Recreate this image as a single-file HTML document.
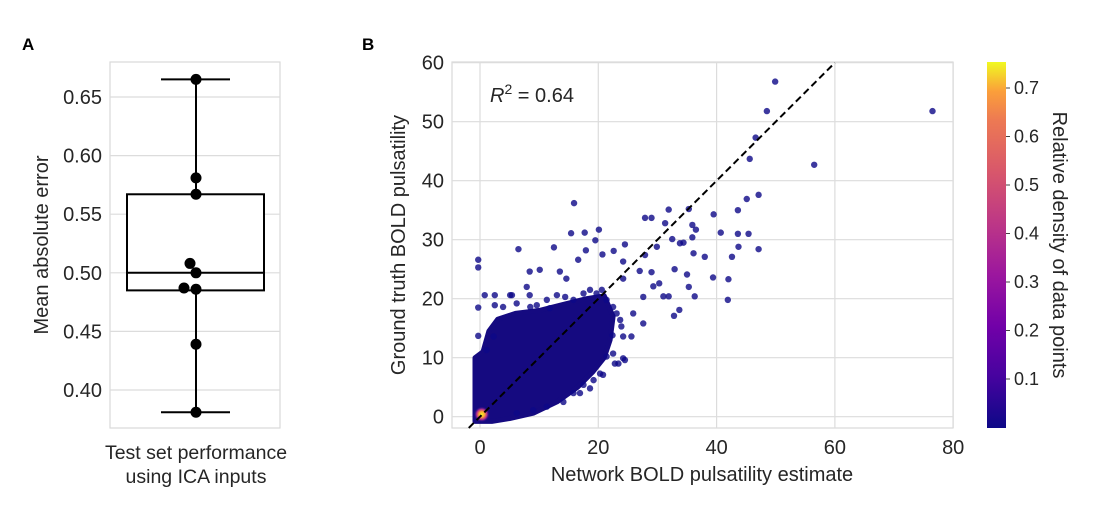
<!DOCTYPE html>
<html><head><meta charset="utf-8"><style>
html,body{margin:0;padding:0;background:#fff;}
svg{display:block;font-family:"Liberation Sans",sans-serif;}
</style></head><body>
<svg id="fig" width="1100" height="520" viewBox="0 0 1100 520">
<defs>
<linearGradient id="plasma" x1="0" y1="1" x2="0" y2="0">
<stop offset="0" stop-color="#0d0887"/><stop offset="0.14" stop-color="#46039f"/>
<stop offset="0.28" stop-color="#7201a8"/><stop offset="0.42" stop-color="#9c179e"/>
<stop offset="0.56" stop-color="#bd3786"/><stop offset="0.7" stop-color="#d8576b"/>
<stop offset="0.84" stop-color="#ed7953"/><stop offset="0.92" stop-color="#fb9f3a"/>
<stop offset="1" stop-color="#f0f921"/></linearGradient>
<radialGradient id="hot"><stop offset="0" stop-color="#f0f921"/><stop offset="0.35" stop-color="#fca636"/><stop offset="0.65" stop-color="#b12a90"/><stop offset="1" stop-color="#0d0887" stop-opacity="0"/></radialGradient>
</defs>
<text x="22" y="50" font-size="17" font-weight="bold" fill="#000">A</text>
<text x="362" y="50" font-size="17" font-weight="bold" fill="#000">B</text>
<g id="pa"></g>
<g id="pb"></g>
</svg>
<script>
// Panel A data
const aTicks=[0.40,0.45,0.50,0.55,0.60,0.65];
const aPoints=[0.665,0.581,0.567,0.508,0.500,0.487,0.486,0.439,0.381];
const aPointOffsets=[0,0,0,-1,0,-2,0,0,0];
const aBox={q1:0.485,median:0.500,q3:0.567,lo:0.381,hi:0.665};
// Panel B data
const bXTicks=[0,20,40,60,80];
const bYTicks=[0,10,20,30,40,50,60];
const cbTicks=[0.1,0.2,0.3,0.4,0.5,0.6,0.7];
const outX=[49.9,48.5,76.5,46.6,45.6,56.5,47.1,45.1,15.9,31.9,35.3,39.5,43.6,27.9,29.0,31.3,35.9,36.5,40.7,43.6,45.4,20.1,15.4,17.7,32.5,35.9,43.7,47.1,42.6,38.0,6.5,12.5,-0.3,-0.3,39.4,42.0,41.9,36.3,35.3,35.0,33.7,32.8,31.0,31.9,29.3,30.3,32.9,29.0,27.0,24.5,22.6,17.9,16.6,19.5,20.7,24.2,24.2,27.9,29.9,34.4,36.1,33.8,27.6,25.9,27.6,25.6,22.4,24.5,22.8,20.8,18.6,8.4,10.1,7.9,13.5,14.6,2.5,-0.3,-0.3,5.1,8.4,
 0.8,2.5,3.9,5.4,6.2,8.5,9.6,11.3,11.8,13.0,14.4,15.8,17.5,18.6,19.7,20.6,21.4,22.5,23.1,23.7,23.9,24.2,22.5,21.4,23.4,24.2,20.3,19.2,17.5,16.9,15.8,14.1,11.3,9.0,6.2,2.3,1.1];
const outY=[56.8,51.8,51.8,47.3,43.7,42.7,37.6,36.9,36.2,35.1,35.2,34.3,35.0,33.7,33.7,32.8,32.5,31.7,31.2,31.0,31.0,31.7,31.1,31.2,30.1,30.4,28.8,28.4,27.1,27.1,28.4,28.7,26.6,25.3,23.6,23.3,19.8,20.4,22.0,24.1,18.1,17.1,20.4,20.4,22.1,22.6,25.0,24.5,24.7,29.2,28.1,28.2,26.6,29.9,27.5,26.3,23.4,27.4,28.8,29.5,27.7,29.4,20.3,17.5,15.8,13.6,13.8,9.6,9.0,7.1,4.8,24.6,24.9,22.0,24.6,23.4,20.6,18.5,13.7,20.6,20.6,
 20.6,18.9,18.6,20.6,19.2,18.6,18.9,19.8,18.4,20.6,20.3,19.8,20.9,21.5,20.9,21.5,19.8,18.6,17.5,16.4,15.3,13.6,10.7,10.2,9.0,9.9,7.3,6.2,5.4,4.0,4.0,2.5,1.7,1.1,0.6,13.6,11.3];
const blobX=[-0.85,-0.85,0.5,1.5,3,6,10,14,18,21,22.5,22,21,19,16.5,13,9,5,2,-0.85];
const blobY=[-0.8,10,11,14.5,16.5,17.5,18,19,20,20.5,17,13,10,7.5,5,2.5,0.6,-0.3,-0.8,-0.8];

const NS="http://www.w3.org/2000/svg";
function mk(p,tag,at,txt){const e=document.createElementNS(NS,tag);for(const k in at)e.setAttribute(k,at[k]);if(txt!=null)e.textContent=txt;p.appendChild(e);return e;}

// ---------- Panel A ----------
const pa=document.getElementById('pa');
const aL=110,aR=280,aT=62,aB=428;
const ay=v=>390-(v-0.40)/0.05*58.6;
mk(pa,'rect',{x:aL,y:aT,width:aR-aL,height:aB-aT,fill:'#fff',stroke:'#d9d9d9','stroke-width':1.2});
aTicks.forEach(t=>{
 const g=mk(pa,'line',{x1:aL,x2:aR,y1:ay(t),y2:ay(t),stroke:'#dcdcdc','stroke-width':1.2});
 
 const l=mk(pa,'text',{x:aL-8,y:ay(t)+7,'font-size':20,'text-anchor':'end',fill:'#262626'},t.toFixed(2));
 
});
const cx=196;
const wl=mk(pa,'line',{x1:cx,x2:cx,y1:ay(aBox.hi),y2:ay(aBox.lo),stroke:'#000','stroke-width':2});

[aBox.hi,aBox.lo].forEach(v=>{const c=mk(pa,'line',{x1:161,x2:230,y1:ay(v),y2:ay(v),stroke:'#000','stroke-width':2});
 });
const bx=mk(pa,'rect',{x:127,y:ay(aBox.q3),width:137,height:ay(aBox.q1)-ay(aBox.q3),fill:'#fff',stroke:'#000','stroke-width':2});

const md=mk(pa,'line',{x1:127,x2:264,y1:ay(aBox.median),y2:ay(aBox.median),stroke:'#000','stroke-width':2});

aPoints.forEach((v,i)=>{const c=mk(pa,'circle',{cx:cx+aPointOffsets[i]*6,cy:ay(v),r:5.5,fill:'#000'});
 });
const ayl=mk(pa,'text',{transform:'translate(48,245) rotate(-90)','font-size':20,'text-anchor':'middle',fill:'#262626'},'Mean absolute error');

const ax1=mk(pa,'text',{x:196,y:459,'font-size':19.5,'text-anchor':'middle',fill:'#262626'},'Test set performance');

const ax2=mk(pa,'text',{x:196,y:483,'font-size':19.5,'text-anchor':'middle',fill:'#262626'},'using ICA inputs');


// ---------- Panel B ----------
const pb=document.getElementById('pb');
const bL=452,bR=953,bT=62,bB=428;
const bx_=v=>480+v*5.915;
const by_=v=>416.7-v*5.9;
mk(pb,'rect',{x:bL,y:bT,width:bR-bL,height:bB-bT,fill:'#fff',stroke:'#d9d9d9','stroke-width':1.2});
bXTicks.forEach(t=>{
 const g=mk(pb,'line',{x1:bx_(t),x2:bx_(t),y1:bT,y2:bB,stroke:'#dcdcdc','stroke-width':1.2});
 
 const l=mk(pb,'text',{x:bx_(t),y:454,'font-size':20,'text-anchor':'middle',fill:'#262626'},String(t));
 
});
bYTicks.forEach(t=>{
 const g=mk(pb,'line',{x1:bL,x2:bR,y1:by_(t),y2:by_(t),stroke:'#dcdcdc','stroke-width':1.2});
 
 const l=mk(pb,'text',{x:bL-8,y:by_(t)+7,'font-size':20,'text-anchor':'end',fill:'#262626'},String(t));
 
});
let d='';blobX.forEach((x,i)=>{d+=(i?'L':'M')+bx_(x).toFixed(1)+','+by_(blobY[i]).toFixed(1);});
const blob=mk(pb,'path',{d:d+'Z',fill:'#150a80',stroke:'#150a80','stroke-width':5,'stroke-linejoin':'round'});

outX.forEach((x,i)=>{const c=mk(pb,'circle',{cx:bx_(x),cy:by_(outY[i]),r:3.2,fill:'#0d0887','fill-opacity':0.8});
 });
const hot=mk(pb,'ellipse',{cx:bx_(0.3),cy:by_(0.4),rx:8,ry:8,fill:'url(#hot)'});

const id=mk(pb,'line',{x1:bx_(-1.9),y1:by_(-1.9),x2:bx_(60),y2:by_(60),stroke:'#000','stroke-width':2,'stroke-dasharray':'7,4'});

const r2=mk(pb,'text',{x:490,y:102,'font-size':20,fill:'#262626'});

r2.innerHTML='<tspan font-style="italic">R</tspan><tspan dy="-8" font-size="14">2</tspan><tspan dy="8"> = 0.64</tspan>';
const bxl=mk(pb,'text',{x:702,y:481,'font-size':20,'text-anchor':'middle',fill:'#262626'},'Network BOLD pulsatility estimate');

const byl=mk(pb,'text',{transform:'translate(405,245) rotate(-90)','font-size':20,'text-anchor':'middle',fill:'#262626'},'Ground truth BOLD pulsatility');

// colorbar
const cy_=v=>427.5-v*485;
const cb=mk(pb,'rect',{x:987,y:62,width:19,height:366,fill:'url(#plasma)'});

cbTicks.forEach(t=>{
 mk(pb,'line',{x1:1006,x2:1010,y1:cy_(t),y2:cy_(t),stroke:'#444','stroke-width':1});
 const l=mk(pb,'text',{x:1014,y:cy_(t)+6,'font-size':18,fill:'#262626'},t.toFixed(1));
 
});
const cbl=mk(pb,'text',{transform:'translate(1053,245) rotate(90)','font-size':20,'text-anchor':'middle',fill:'#262626'},'Relative density of data points');

</script>
</body></html>
